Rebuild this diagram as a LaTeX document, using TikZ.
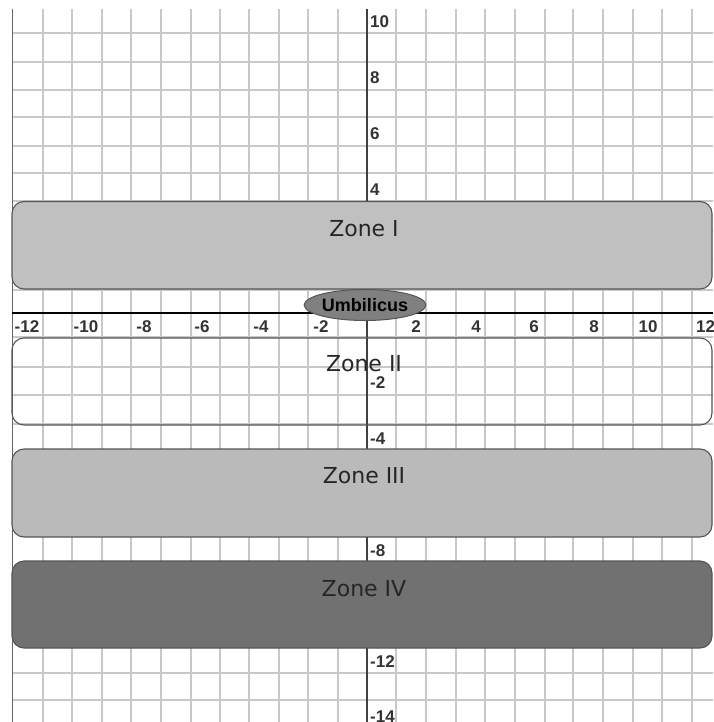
\documentclass[tikz,border=0pt]{standalone}
\usepackage{fontspec}
\setmainfont{DejaVu Sans}
\newfontfamily\labfont{Liberation Sans}
\usetikzlibrary{shapes.geometric}
\definecolor{gridgray}{HTML}{C8C8C8}
\definecolor{edgegray}{HTML}{555555}
\definecolor{zoneA}{HTML}{C0C0C0}
\definecolor{zoneC}{HTML}{BABABA}
\definecolor{zoneD}{HTML}{717171}
\definecolor{umbfill}{HTML}{808080}
\tikzset{
  gridline/.style={draw=gridgray, line width=1.5pt},
  zonebox/.style={draw=edgegray, line width=1.1pt, rounded corners=12pt},
  zonelabel/.style={font=\fontsize{22}{26}\selectfont, text=black!85, inner sep=0pt},
  axlabel/.style={font=\labfont\bfseries\fontsize{17}{20}\selectfont, text=black!80, inner sep=0pt},
}
\begin{document}
\begin{tikzpicture}[x=1pt, y=-1pt]
\useasboundingbox (0,0) rectangle (713,722);
\fill[white] (0,0) rectangle (713,722);
\clip (0,0) rectangle (713,722);
% grid
\foreach \gx in {43,72,102,131,161,191,220,249,279,308,338,396,426,456,485,515,545,573,603,633,662,692}
  \draw[gridline] (\gx,9) -- (\gx,722);
\foreach \gy in {33,62,90,117,146,173,201,230,259,290,337,367,395,424,673,700}
  \draw[gridline] (12.7,\gy) -- (713,\gy);
\draw[draw=black!60, line width=1.5pt] (12.7,9) -- (12.7,722);
% axes
\coordinate (ytop) at (367,9);
\coordinate (ybot) at (367,722);
\coordinate (xl) at (12,313);
\coordinate (xr) at (713,313);
\draw[draw=black!75, line width=2pt] (ytop) -- (ybot);
\draw[draw=black, line width=2.5pt] (xl) -- (xr);
% zones
\draw[zonebox, fill=zoneA] (12,201.5) rectangle (712,289);
\draw[zonebox] (12,338) rectangle (712,425);
\draw[zonebox, fill=zoneC] (12,449) rectangle (712,537);
\draw[zonebox, fill=zoneD] (12,561) rectangle (712,648);
\node[zonelabel] (z1) at (364,229) {Zone I};
\node[zonelabel] (z2) at (364,364) {Zone II};
\node[zonelabel] (z3) at (364,476) {Zone III};
\node[zonelabel] (z4) at (364,589) {Zone IV};
% umbilicus
\node[ellipse, draw=edgegray, line width=1pt, fill=umbfill, minimum width=114pt, minimum height=31pt, inner sep=0pt,
      font=\labfont\bfseries\fontsize{18}{20}\selectfont] (umb) at (365,305) {Umbilicus};
% x labels
\foreach \lx/\lt in {27/-12,86/-10,144/-8,202/-6,261/-4,321/-2,416/2,476/4,534/6,594/8,648/10}
  \node[axlabel] at (\lx,327) {\lt};
\node[axlabel, anchor=west] (x12) at (696,327) {12};
% y labels
\foreach \ly/\lt in {22/10,78/8,134/6,190/4,383/-2,439/-4,551/-8,662/-12,717/-14}
  \node[axlabel, anchor=west] at (370,\ly) {\lt};
\end{tikzpicture}
\end{document}
